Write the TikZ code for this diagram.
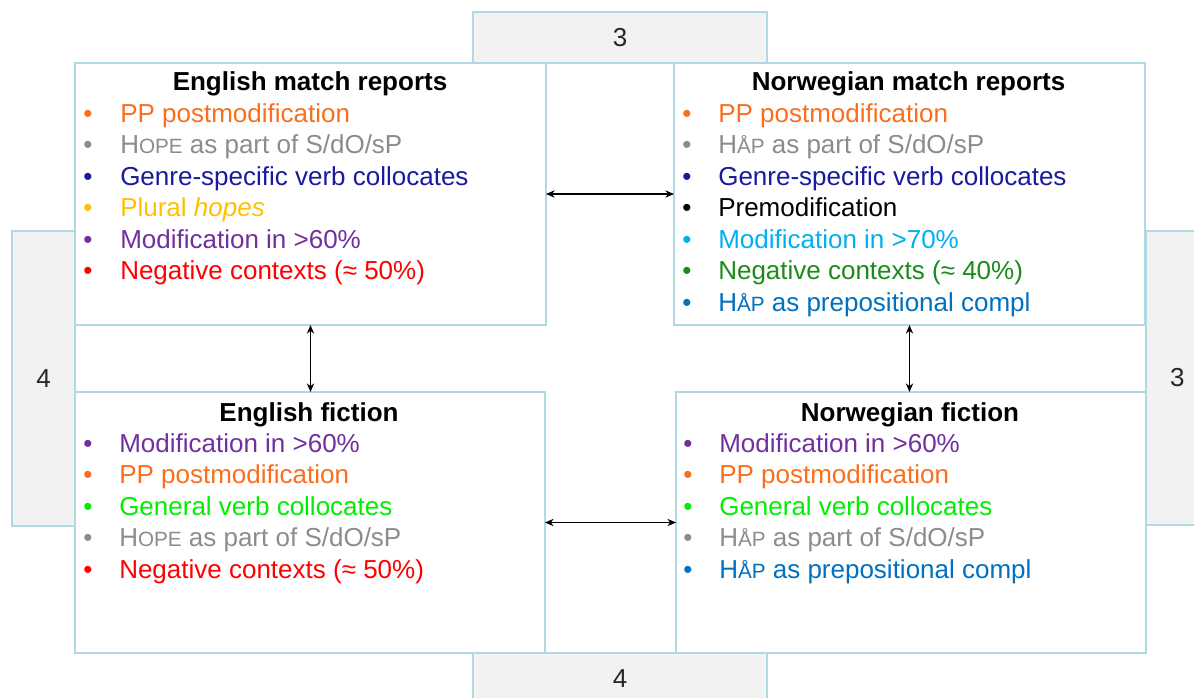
\documentclass[tikz,border=0pt]{standalone}
\usepackage{fontspec}
\setmainfont{Liberation Sans}
\usetikzlibrary{arrows.meta}
\definecolor{bordc}{RGB}{175,218,228}
\definecolor{tabfill}{RGB}{242,242,242}
\definecolor{cOrange}{RGB}{250,110,30}
\definecolor{cGrey}{RGB}{140,140,140}
\definecolor{cDarkBlue}{RGB}{26,26,160}
\definecolor{cGold}{RGB}{255,192,0}
\definecolor{cPurple}{RGB}{112,48,160}
\definecolor{cRed}{RGB}{255,0,0}
\definecolor{cLightBlue}{RGB}{0,176,240}
\definecolor{cDarkGreen}{RGB}{26,140,26}
\definecolor{cBlue}{RGB}{0,112,192}
\definecolor{cBrightGreen}{RGB}{0,238,0}
\definecolor{cNum}{RGB}{38,38,38}
\newcommand\smc[1]{{\fontsize{15.5pt}{15.5pt}\selectfont #1}}
\newcommand\lineitem[6]{\node[bul,text=#5] (#1b) at (#2,#4) {•}; \node[itm,text=#5] (#1) at (#3,#4) {#6};}
\tikzset{
  box/.style={draw=bordc, line width=0.8pt, fill=white, rectangle, inner sep=0pt, outer sep=0pt},
  tabbox/.style={draw=bordc, line width=0.8pt, fill=tabfill, rectangle, inner sep=0pt, outer sep=0pt, text=cNum, font=\fontsize{19.5pt}{23pt}\selectfont},
  ttl/.style={anchor=base, inner sep=0pt, font=\fontsize{19.5pt}{23pt}\selectfont\bfseries},
  bul/.style={anchor=base, inner sep=0pt, font=\fontsize{19.5pt}{23pt}\selectfont},
  itm/.style={anchor=base west, inner sep=0pt, font=\fontsize{19.5pt}{23pt}\selectfont},
  arr/.style={{Stealth[length=6.5pt,width=5.5pt]}-{Stealth[length=6.5pt,width=5.5pt]}, line width=0.8pt, black},
}
\begin{document}
\begin{tikzpicture}[x=0.75pt,y=-0.75pt]
\useasboundingbox (0,0) rectangle (1194,697);
% tabs
\node[tabbox, minimum width=220.5pt, minimum height=38.25pt] (ttop) at (620,37.5) {3};
\node[tabbox, minimum width=47.25pt, minimum height=221.25pt] (tleft) at (43.5,378.5) {4};
\node[tabbox, minimum width=48pt, minimum height=220.5pt] (tright) at (1178,378) {\hspace*{-1pt}3};
\node[tabbox, minimum width=220.5pt, minimum height=39pt] (tbot) at (620,679) {4};
% boxes
\node[box, minimum width=353.25pt, minimum height=196.5pt] (em) at (310.5,194) {};
\node[box, minimum width=353.25pt, minimum height=196.5pt] (nm) at (909.5,194) {};
\node[box, minimum width=352.5pt, minimum height=195.75pt] (ef) at (310,522.5) {};
\node[box, minimum width=352.5pt, minimum height=195.75pt] (nf) at (911,522.5) {};
% English match reports
\node[ttl] (emt) at (310,90.5) {English match reports};
\lineitem{em1}{88}{120}{122}{cOrange}{PP postmodification}
\lineitem{em2}{88}{120}{153.5}{cGrey}{H\smc{OPE} as part of S/dO/sP}
\lineitem{em3}{88}{120}{185}{cDarkBlue}{Genre-specific verb collocates}
\lineitem{em4}{88}{120}{216.5}{cGold}{Plural \textit{hopes}}
\lineitem{em5}{88}{120}{248}{cPurple}{Modification in >60\%}
\lineitem{em6}{88}{120}{279.5}{cRed}{Negative contexts (≈ 50\%)}
% Norwegian match reports
\node[ttl] (nmt) at (908.5,90.5) {Norwegian match reports};
\lineitem{nm1}{687}{718}{122}{cOrange}{PP postmodification}
\lineitem{nm2}{687}{718}{153.5}{cGrey}{H\smc{ÅP} as part of S/dO/sP}
\lineitem{nm3}{687}{718}{185}{cDarkBlue}{Genre-specific verb collocates}
\lineitem{nm4}{687}{718}{216.5}{black}{Premodification}
\lineitem{nm5}{687}{718}{248}{cLightBlue}{Modification in >70\%}
\lineitem{nm6}{687}{718}{279.5}{cDarkGreen}{Negative contexts (≈ 40\%)}
\lineitem{nm7}{687}{718}{311}{cBlue}{H\smc{ÅP} as prepositional compl}
% English fiction
\node[ttl] (eft) at (309,421) {English fiction};
\lineitem{ef1}{88}{119}{452}{cPurple}{Modification in >60\%}
\lineitem{ef2}{88}{119}{483.5}{cOrange}{PP postmodification}
\lineitem{ef3}{88}{119}{515}{cBrightGreen}{General verb collocates}
\lineitem{ef4}{88}{119}{546.5}{cGrey}{H\smc{OPE} as part of S/dO/sP}
\lineitem{ef5}{88}{119}{578}{cRed}{Negative contexts (≈ 50\%)}
% Norwegian fiction
\node[ttl] (nft) at (910,421) {Norwegian fiction};
\lineitem{nf1}{688}{719}{452}{cPurple}{Modification in >60\%}
\lineitem{nf2}{688}{719}{483.5}{cOrange}{PP postmodification}
\lineitem{nf3}{688}{719}{515}{cBrightGreen}{General verb collocates}
\lineitem{nf4}{688}{719}{546.5}{cGrey}{H\smc{ÅP} as part of S/dO/sP}
\lineitem{nf5}{688}{719}{578}{cBlue}{H\smc{ÅP} as prepositional compl}
% connectors
\draw[arr] (em.east) -- (nm.west);
\draw[arr] (ef.east) -- (nf.west);
\draw[arr] (em.south) -- (em.south |- ef.north);
\draw[arr] (nm.south) -- (nm.south |- nf.north);
\end{tikzpicture}
\end{document}
